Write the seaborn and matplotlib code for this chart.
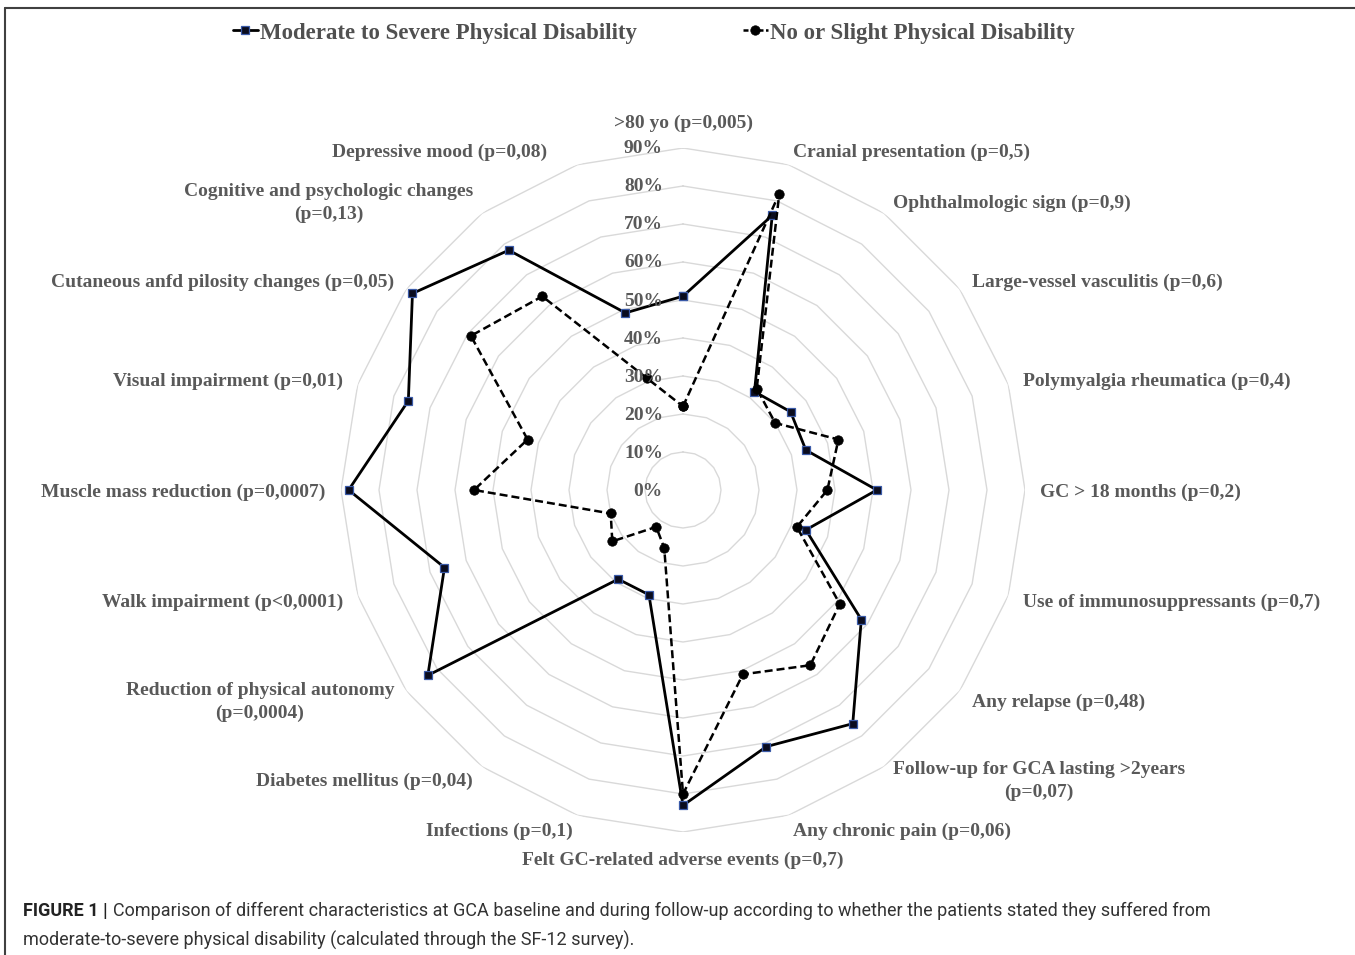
import numpy as np
import pandas as pd
import matplotlib
matplotlib.use("Agg")
import matplotlib.pyplot as plt
from matplotlib.lines import Line2D
import seaborn as sns

# ---------------- data ----------------
categories = [
    ">80 yo (p=0,005)",
    "Cranial presentation (p=0,5)",
    "Ophthalmologic sign (p=0,9)",
    "Large-vessel vasculitis (p=0,6)",
    "Polymyalgia rheumatica (p=0,4)",
    "GC > 18 months (p=0,2)",
    "Use of immunosuppressants (p=0,7)",
    "Any relapse (p=0,48)",
    "Follow-up for GCA lasting >2years\n(p=0,07)",
    "Any chronic pain (p=0,06)",
    "Felt GC-related adverse events (p=0,7)",
    "Infections (p=0,1)",
    "Diabetes mellitus (p=0,04)",
    "Reduction of physical autonomy\n(p=0,0004)",
    "Walk impairment (p<0,0001)",
    "Muscle mass reduction (p=0,0007)",
    "Visual impairment (p=0,01)",
    "Cutaneous anfd pilosity changes (p=0,05)",
    "Cognitive and psychologic changes\n(p=0,13)",
    "Depressive mood (p=0,08)",
]
moderate_severe = [51, 76, 32, 35, 34, 51, 34, 58, 76, 71, 83, 29, 29, 83, 66, 88, 76, 88, 78, 49]
no_slight = [22, 82, 33, 30, 43, 38, 31.5, 51, 57, 51, 80, 16, 12, 23, 20, 55, 43, 69, 63, 31]
series_names = ["Moderate to Severe Physical Disability", "No or Slight Physical Disability"]
radial_ticks = [0, 10, 20, 30, 40, 50, 60, 70, 80, 90]
caption_bold = "FIGURE 1 |"
caption_line1 = ("Comparison of different characteristics at GCA baseline and during follow-up "
                 "according to whether the patients stated they suffered from")
caption_line2 = "moderate-to-severe physical disability (calculated through the SF-12 survey)."

# ---------------- style ----------------
sns.set_style("white")
plt.rcParams["font.family"] = ["Liberation Serif", "DejaVu Serif"]
TXT = "#595959"
GRID = "#d9d9d9"
W, H = 1355, 955

fig = plt.figure(figsize=(W / 100, H / 100), dpi=100)
cx, cy, R = 683, 490, 342
ax = fig.add_axes([(cx - R) / W, (H - cy - R) / H, 2 * R / W, 2 * R / H], projection="polar")
ax.set_theta_zero_location("N")
ax.set_theta_direction(-1)
ax.set_ylim(0, 90)
ax.grid(False)
ax.spines["polar"].set_visible(False)
ax.set_xticks([])
ax.set_yticks([])

n = len(categories)
theta = np.linspace(0, 2 * np.pi, n, endpoint=False)
theta_c = np.append(theta, 2 * np.pi)

# polygon gridlines
for lev in radial_ticks[1:]:
    ax.plot(theta_c, [lev] * (n + 1), color=GRID, lw=1.0, zorder=1)

df = pd.DataFrame({
    "theta": np.concatenate([theta_c, theta_c]),
    "value": np.concatenate([moderate_severe + moderate_severe[:1], no_slight + no_slight[:1]]),
    "series": [series_names[0]] * (n + 1) + [series_names[1]] * (n + 1),
})

sq_kw = dict(marker="s", markersize=6.2, markerfacecolor="#0a0c1e",
             markeredgecolor="#3a5aa8", markeredgewidth=0.9)
ci_kw = dict(marker="o", markersize=6.8, markerfacecolor="black",
             markeredgecolor="black", markeredgewidth=0.5)

sns.lineplot(data=df[df.series == series_names[0]], x="theta", y="value", ax=ax,
             sort=False, estimator=None, color="black", lw=2.0, zorder=3,
             legend=False, clip_on=False, **sq_kw)
sns.lineplot(data=df[df.series == series_names[1]], x="theta", y="value", ax=ax,
             sort=False, estimator=None, color="black", lw=1.8, zorder=3,
             linestyle=(0, (3.2, 1.6)), legend=False, clip_on=False, **ci_kw)
ax.set_xlabel("")
ax.set_ylabel("")
ax.set_ylim(0, 90)

# radial tick labels
for v in radial_ticks:
    ax.annotate(f"{v}%", xy=(0, v), xytext=(-20, -1), textcoords="offset pixels",
                ha="right", va="center", fontsize=14, fontweight="bold", color=TXT, zorder=5)

# category labels
label_nudge = {19: (-25, 0)}
for i, (ang, lab) in enumerate(zip(theta, categories)):
    deg = np.degrees(ang)
    if np.isclose(deg, 0) or np.isclose(deg, 180):
        ha, r = "center", 97
    elif deg < 180:
        ha, r = "left", 94
    else:
        ha, r = "right", 94
    dx, dy = label_nudge.get(i, (0, 0))
    ax.annotate(lab, xy=(ang, r), xytext=(dx, dy - 2), textcoords="offset pixels",
                ha=ha, va="center", multialignment="center", linespacing=1.4,
                fontsize=14, fontweight="bold", color=TXT, annotation_clip=False)

# legend
h1 = Line2D([], [], color="black", lw=2.0, **sq_kw)
h2 = Line2D([], [], color="black", lw=1.8, linestyle=(0, (2, 1)), **ci_kw)
leg = fig.legend([h1, h2], series_names, loc="center", bbox_to_anchor=(654 / W, 1 - 33 / H),
                 ncol=2, frameon=False, handlelength=1.1, handletextpad=0.1, columnspacing=4.6,
                 prop=dict(family="Liberation Serif", weight="bold", size=16.5))
for t in leg.get_texts():
    t.set_color("#505050")

# frame lines
fig.add_artist(Line2D([5 / W, 1], [1 - 8 / H] * 2, transform=fig.transFigure, color="#404040", lw=1.5))
fig.add_artist(Line2D([5 / W] * 2, [0, 1 - 8 / H], transform=fig.transFigure, color="#404040", lw=1.5))

# caption (fitted to the reference line width)
cap_fam = ["Liberation Sans Narrow", "DejaVu Sans Condensed", "Roboto", "DejaVu Sans"]
renderer = fig.canvas.get_renderer()
fs = 13.5
tb = fig.text(23 / W, 1 - 911 / H, caption_bold, ha="left", va="center",
              fontsize=fs, fontweight="bold", family=cap_fam, color="#222222")
t1 = fig.text(0, 1 - 911 / H, caption_line1, ha="left", va="center",
              fontsize=fs, family=cap_fam, color="#333333")
t2 = fig.text(23 / W, 1 - 940 / H, caption_line2, ha="left", va="center",
              fontsize=fs, family=cap_fam, color="#333333")
wb = tb.get_window_extent(renderer=renderer).width
w1 = t1.get_window_extent(renderer=renderer).width
scale = (1213 - 23 - 5) / (wb + w1)
fs2 = fs * scale
for t in (tb, t1, t2):
    t.set_fontsize(fs2)
bb = tb.get_window_extent(renderer=renderer)
t1.set_x((bb.x1 + 5) / W)

fig.savefig("out.png", dpi=100)
